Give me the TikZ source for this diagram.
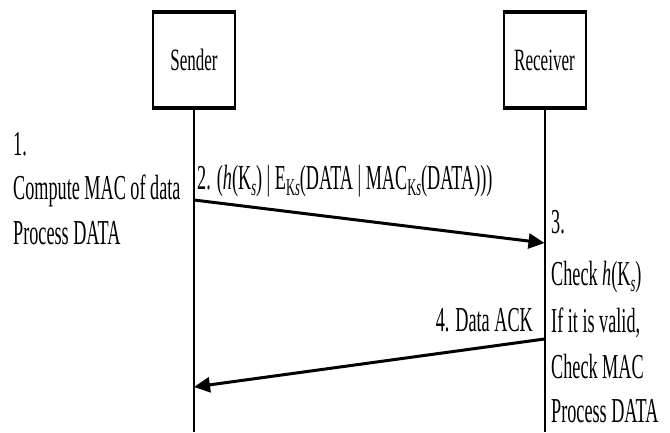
\documentclass[tikz,border=0pt]{standalone}
\usepackage{fontspec}
\setmainfont[FakeStretch=0.55]{Liberation Serif}
\newfontfamily\bodyfont[FakeStretch=0.52]{Liberation Serif}
\usetikzlibrary{arrows.meta}
\newcommand{\lowsub}[1]{\raisebox{-0.4ex}{\fontsize{24}{24}\selectfont #1}}
\begin{document}
\begin{tikzpicture}[x=1pt,y=-1pt,
  actor/.style={draw, line width=2pt, minimum width=82pt, minimum height=94pt, inner sep=0pt, font=\fontsize{31}{31}\selectfont},
  edge/.style={line width=3.2pt},
  life/.style={line width=2pt},
  msg/.style={line width=3pt, -{Triangle[length=16pt,width=15pt]}},
  txt/.style={anchor=base west, inner sep=0pt, font=\bodyfont\fontsize{35}{35}\selectfont},
  txte/.style={anchor=base east, inner sep=0pt, font=\bodyfont\fontsize{35}{35}\selectfont}]
\useasboundingbox (0,0) rectangle (670,432);
\coordinate (bot) at (0,432);
\node[actor] (snd) at (194,60) {Sender};
\node[actor] (rcv) at (544.5,60) {Receiver};
\draw[edge] (snd.north west) -- (snd.north east);
\draw[edge] (snd.south west) -- (snd.south east);
\draw[edge] (rcv.north west) -- (rcv.north east);
\draw[edge] (rcv.south west) -- (rcv.south east);
\draw[life] (snd.south) -- (snd.south |- bot);
\draw[life] (rcv.south) -- (rcv.south |- bot);
% step 1
\node[txt] (s1a) at (13,155) {1.};
\node[txt] (s1b) at (13,199) {Compute MAC of data};
\node[txt] (s1c) at (13,244) {Process DATA};
% message 2
\coordinate (m2a) at (194,200);
\coordinate (m2b) at (544.5,243);
\draw[msg] (m2a) -- (m2b);
\node[txt] (l2) at (197,189) {2. (\textit{h}(K\lowsub{\textit{s}}) | E\lowsub{K\textit{s}}(DATA | MAC\lowsub{K\textit{s}}(DATA)))};
% step 3
\node[txt] (s3a) at (551,233) {3.};
\node[txt] (s3b) at (551,285) {Check \textit{h}(K\lowsub{\textit{s}})};
\node[txt] (s3c) at (551,332) {If it is valid,};
\node[txt] (s3d) at (551,378) {Check MAC};
\node[txt] (s3e) at (551,422) {Process DATA};
% message 4
\coordinate (m4a) at (544.5,339);
\coordinate (m4b) at (194,387);
\draw[msg] (m4a) -- (m4b);
\node[txte] (l4) at (533,331) {4. Data ACK};
\end{tikzpicture}
\end{document}
